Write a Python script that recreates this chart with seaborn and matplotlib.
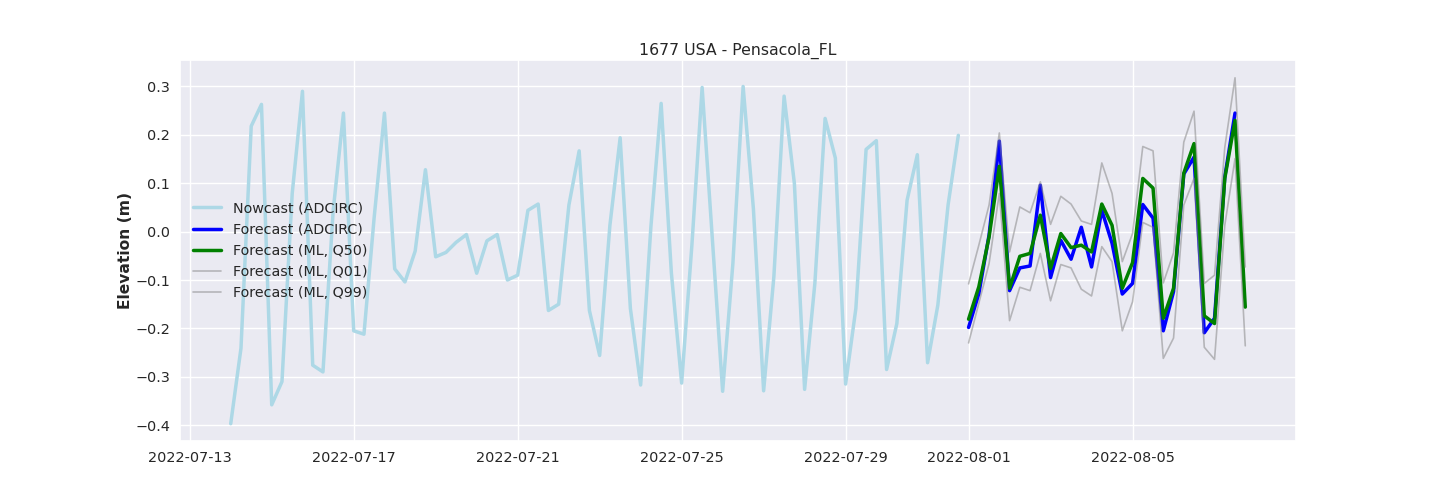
import matplotlib
matplotlib.use('Agg')
import matplotlib.pyplot as plt
import seaborn as sns
import pandas as pd

nowcast_start = '2022-07-14 00:00'
forecast_start = '2022-08-01 00:00'
freq = '6h'

nowcast = [-0.397, -0.241, 0.218, 0.263, -0.358, -0.31, 0.079, 0.29, -0.276, -0.29, 0.044, 0.245,
           -0.205, -0.212, 0.03, 0.245, -0.077, -0.104, -0.04, 0.128, -0.052, -0.043, -0.022, -0.006,
           -0.086, -0.019, -0.006, -0.1, -0.09, 0.044, 0.057, -0.163, -0.15, 0.055, 0.167, -0.163,
           -0.256, 0.013, 0.194, -0.159, -0.317, 0.01, 0.265, -0.086, -0.313, -0.028, 0.298, -0.016,
           -0.33, -0.066, 0.3, 0.048, -0.329, -0.093, 0.28, 0.1, -0.326, -0.107, 0.234, 0.152,
           -0.315, -0.159, 0.17, 0.188, -0.285, -0.19, 0.065, 0.159, -0.271, -0.152, 0.055, 0.199]
# blue line stops one step before the ML lines
forecast = [-0.198, -0.128, -0.007, 0.187, -0.122, -0.075, -0.071, 0.096, -0.095, -0.018, -0.057, 0.009, -0.073, 0.044,
            -0.024, -0.129, -0.107, 0.056, 0.028, -0.205, -0.124, 0.119, 0.154, -0.209, -0.179, 0.113, 0.245]
q50 = [-0.181, -0.114, -0.011, 0.135, -0.117, -0.051, -0.045, 0.034, -0.076, -0.004, -0.033, -0.028, -0.042, 0.057,
       0.013, -0.117, -0.064, 0.11, 0.09, -0.179, -0.117, 0.121, 0.182, -0.174, -0.19, 0.11, 0.23, -0.156]
q01 = [-0.23, -0.148, -0.066, 0.079, -0.184, -0.115, -0.122, -0.045, -0.143, -0.068, -0.075, -0.119, -0.133, -0.031,
       -0.062, -0.205, -0.145, 0.019, 0.009, -0.262, -0.22, 0.055, 0.11, -0.239, -0.264, 0.013, 0.151, -0.236]
q99 = [-0.108, -0.028, 0.055, 0.204, -0.042, 0.051, 0.039, 0.103, 0.015, 0.073, 0.057, 0.022, 0.015, 0.142,
       0.079, -0.062, -0.004, 0.176, 0.167, -0.106, -0.044, 0.185, 0.249, -0.107, -0.09, 0.174, 0.318, -0.073]

now_time = pd.date_range(nowcast_start, periods=len(nowcast), freq=freq)
fc_time = pd.date_range(forecast_start, periods=len(q50), freq=freq)

sns.set_theme(style='darkgrid')
fig, ax = plt.subplots(figsize=(14.4, 5.04), dpi=100)
fig.subplots_adjust(left=0.125, right=0.9, top=0.88, bottom=0.125)

sns.lineplot(x=now_time, y=nowcast, color='lightblue', linewidth=2.5, label='Nowcast (ADCIRC)', ax=ax)
sns.lineplot(x=fc_time[:len(forecast)], y=forecast, color='blue', linewidth=2.5, label='Forecast (ADCIRC)', ax=ax)
sns.lineplot(x=fc_time, y=q50, color='green', linewidth=2.5, label='Forecast (ML, Q50)', ax=ax)
sns.lineplot(x=fc_time, y=q01, color='gray', alpha=0.5, linewidth=1.2, label='Forecast (ML, Q01)', ax=ax)
sns.lineplot(x=fc_time, y=q99, color='gray', alpha=0.5, linewidth=1.2, label='Forecast (ML, Q99)', ax=ax)

ax.set_title('1677 USA - Pensacola_FL', fontsize=11.3, pad=4)
ax.set_xlabel('')
ax.set_ylabel('Elevation (m)', fontweight='bold', fontsize=11.2, labelpad=2)
ax.tick_params(labelsize=10.4, pad=1)
ax.legend(loc='center left', frameon=False, fontsize=10.3, labelspacing=0.5)

fig.savefig('out.png', dpi=100)
